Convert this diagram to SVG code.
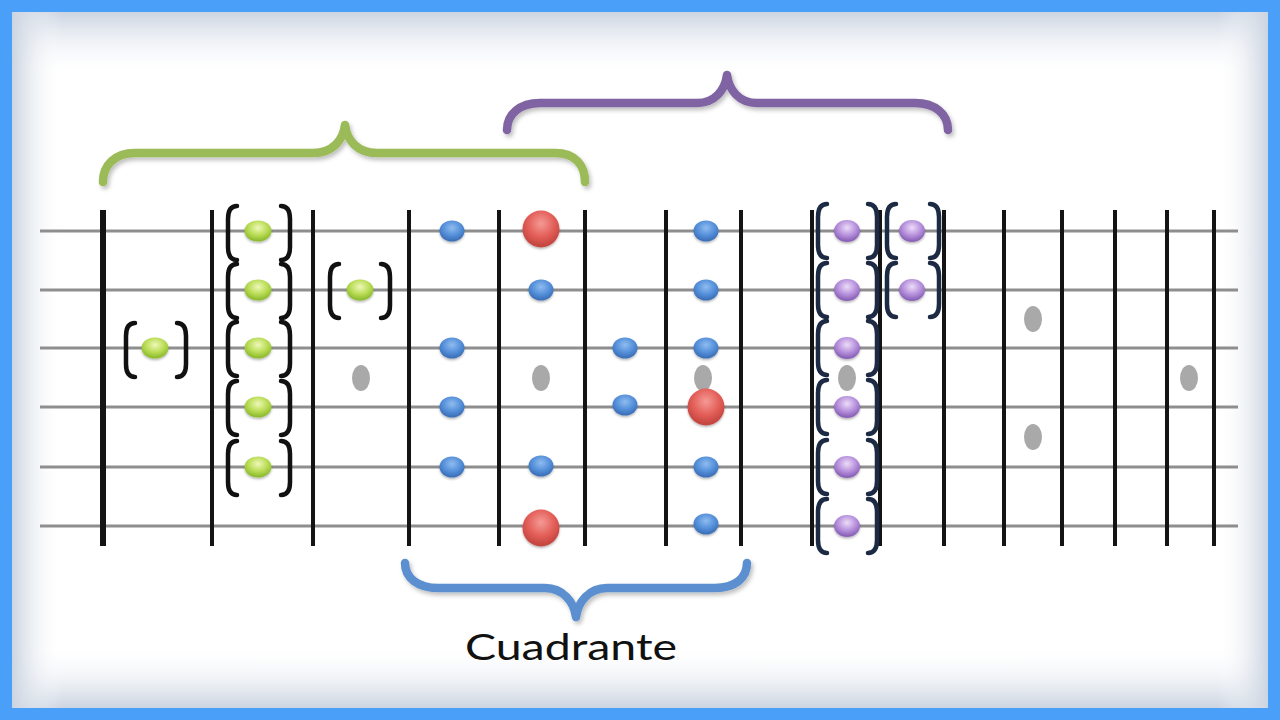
<svg xmlns="http://www.w3.org/2000/svg" width="1280" height="720" viewBox="0 0 1280 720">
<defs>
<style>
.str{stroke:#8e8e8e;stroke-width:3}
.fret{stroke:#141414;stroke-width:4}
.brk{fill:none;stroke:#111;stroke-width:4.5;stroke-linecap:round}
.pbrk{fill:none;stroke:#1c2a44;stroke-width:4.5;stroke-linecap:round}
.brace{fill:none;stroke-width:8.5;stroke-linecap:round;stroke-linejoin:round;filter:url(#sh)}
.inlay{fill:#a9a9a9}
.g{fill:url(#gG);filter:url(#dsh)}
.b{fill:url(#gB);filter:url(#dsh)}
.r{fill:url(#gR);filter:url(#dsh)}
.p{fill:url(#gP);filter:url(#dsh)}
</style>
<radialGradient id="gG" cx="50%" cy="35%" r="60%"><stop offset="0" stop-color="#eef8b8"/><stop offset="0.6" stop-color="#b9dc55"/><stop offset="1" stop-color="#8fbd30"/></radialGradient>
<radialGradient id="gB" cx="50%" cy="35%" r="60%"><stop offset="0" stop-color="#8fbcef"/><stop offset="0.6" stop-color="#5590da"/><stop offset="1" stop-color="#3d71ba"/></radialGradient>
<radialGradient id="gR" cx="50%" cy="35%" r="60%"><stop offset="0" stop-color="#f59a95"/><stop offset="0.6" stop-color="#e35f59"/><stop offset="1" stop-color="#c64640"/></radialGradient>
<radialGradient id="gP" cx="50%" cy="35%" r="60%"><stop offset="0" stop-color="#ecdcf8"/><stop offset="0.6" stop-color="#b690dc"/><stop offset="1" stop-color="#8a62b8"/></radialGradient>
<linearGradient id="vT" x1="0" y1="0" x2="0" y2="1"><stop offset="0" stop-color="#cbd4e1"/><stop offset="1" stop-color="#ffffff" stop-opacity="0"/></linearGradient>
<linearGradient id="vB" x1="0" y1="1" x2="0" y2="0"><stop offset="0" stop-color="#cbd4e1"/><stop offset="1" stop-color="#ffffff" stop-opacity="0"/></linearGradient>
<linearGradient id="vL" x1="0" y1="0" x2="1" y2="0"><stop offset="0" stop-color="#cbd4e1"/><stop offset="1" stop-color="#ffffff" stop-opacity="0"/></linearGradient>
<linearGradient id="vR" x1="1" y1="0" x2="0" y2="0"><stop offset="0" stop-color="#cbd4e1"/><stop offset="1" stop-color="#ffffff" stop-opacity="0"/></linearGradient>
<filter id="sh" x="-10%" y="-50%" width="120%" height="200%"><feDropShadow dx="2" dy="3" stdDeviation="2" flood-color="#000" flood-opacity="0.25"/></filter>
<filter id="dsh" x="-50%" y="-50%" width="200%" height="200%"><feDropShadow dx="0" dy="1.5" stdDeviation="1.2" flood-color="#000" flood-opacity="0.3"/></filter>
<path id="lb" d="M 9,-27 Q 0,-27 0,-14 L 0,14 Q 0,27 9,27"/>
<path id="rb" d="M -9,-27 Q 0,-27 0,-14 L 0,14 Q 0,27 -9,27"/>
</defs>

<g id="frame">
<rect x="0" y="0" width="1280" height="720" fill="#4a9ff8"/>
<rect x="12" y="12" width="1256" height="696" fill="#ffffff"/>
<rect x="12" y="12" width="1256" height="65" fill="url(#vT)"/>
<rect x="12" y="645" width="1256" height="63" fill="url(#vB)"/>
<rect x="12" y="12" width="50" height="696" fill="url(#vL)"/>
<rect x="1218" y="12" width="50" height="696" fill="url(#vR)"/>
</g>

<g id="strings">
<line class="str" x1="40" y1="231" x2="1238" y2="231"/>
<line class="str" x1="40" y1="290" x2="1238" y2="290"/>
<line class="str" x1="40" y1="348" x2="1238" y2="348"/>
<line class="str" x1="40" y1="407" x2="1238" y2="407"/>
<line class="str" x1="40" y1="467" x2="1238" y2="467"/>
<line class="str" x1="40" y1="526" x2="1238" y2="526"/>
</g>

<g id="frets">
<line class="fret" x1="103" y1="210" x2="103" y2="546" style="stroke-width:6"/>
<line class="fret" x1="212" y1="210" x2="212" y2="546"/>
<line class="fret" x1="313" y1="210" x2="313" y2="546"/>
<line class="fret" x1="409" y1="210" x2="409" y2="546"/>
<line class="fret" x1="499" y1="210" x2="499" y2="546"/>
<line class="fret" x1="585" y1="210" x2="585" y2="546"/>
<line class="fret" x1="666" y1="210" x2="666" y2="546"/>
<line class="fret" x1="741" y1="210" x2="741" y2="546"/>
<line class="fret" x1="812" y1="210" x2="812" y2="546"/>
<line class="fret" x1="880" y1="210" x2="880" y2="546"/>
<line class="fret" x1="944" y1="210" x2="944" y2="546"/>
<line class="fret" x1="1004" y1="210" x2="1004" y2="546"/>
<line class="fret" x1="1062" y1="210" x2="1062" y2="546"/>
<line class="fret" x1="1115" y1="210" x2="1115" y2="546"/>
<line class="fret" x1="1167" y1="210" x2="1167" y2="546"/>
<line class="fret" x1="1214" y1="210" x2="1214" y2="546"/>
</g>

<g id="inlays">
<ellipse class="inlay" cx="361" cy="378" rx="9" ry="13"/>
<ellipse class="inlay" cx="541" cy="378" rx="9" ry="13"/>
<ellipse class="inlay" cx="703" cy="378" rx="9" ry="13"/>
<ellipse class="inlay" cx="847" cy="378" rx="9" ry="13"/>
<ellipse class="inlay" cx="1033" cy="319" rx="9" ry="13"/>
<ellipse class="inlay" cx="1033" cy="437" rx="9" ry="13"/>
<ellipse class="inlay" cx="1189" cy="378" rx="9" ry="13"/>
</g>

<g id="connectors">
<path class="brace" stroke="#9bbb59" d="M 103,182 C 103,165 115,153 135,153 L 313,153 C 333,153 343,140 345,125 C 347,140 357,153 377,153 L 555,153 C 575,153 585,165 585,182"/>
<path class="brace" stroke="#8064a2" d="M 507,130 C 507,114 520,103 540,103 L 697,103 C 715,103 725,90 727,75 C 729,90 739,103 757,103 L 915,103 C 935,103 948,114 948,130"/>
<path class="brace" stroke="#5b8fd0" d="M 405,563 C 405,578 418,588 438,588 L 545,588 C 563,588 574,602 576,617 C 578,602 589,588 607,588 L 715,588 C 735,588 747,578 747,563"/>
</g>

<g id="green-notes">
<use href="#lb" x="126" y="350" class="brk"/><use href="#rb" x="186" y="350" class="brk"/>
<ellipse class="g" cx="155" cy="348" rx="13.5" ry="10.5"/>
<use href="#lb" x="228" y="233" class="brk"/><use href="#rb" x="290" y="233" class="brk"/>
<use href="#lb" x="228" y="291" class="brk"/><use href="#rb" x="290" y="291" class="brk"/>
<use href="#lb" x="228" y="349" class="brk"/><use href="#rb" x="290" y="349" class="brk"/>
<use href="#lb" x="228" y="408" class="brk"/><use href="#rb" x="290" y="408" class="brk"/>
<use href="#lb" x="228" y="468" class="brk"/><use href="#rb" x="290" y="468" class="brk"/>
<ellipse class="g" cx="258" cy="231" rx="13.5" ry="10.5"/>
<ellipse class="g" cx="258" cy="290" rx="13.5" ry="10.5"/>
<ellipse class="g" cx="258" cy="348" rx="13.5" ry="10.5"/>
<ellipse class="g" cx="258" cy="407" rx="13.5" ry="10.5"/>
<ellipse class="g" cx="258" cy="467" rx="13.5" ry="10.5"/>
<use href="#lb" x="330" y="291" class="brk"/><use href="#rb" x="390" y="291" class="brk"/>
<ellipse class="g" cx="360" cy="290" rx="13.5" ry="10.5"/>
</g>

<g id="blue-notes">
<ellipse class="b" cx="452" cy="231" rx="12.5" ry="10.5"/>
<ellipse class="b" cx="452" cy="348" rx="12.5" ry="10.5"/>
<ellipse class="b" cx="452" cy="407" rx="12.5" ry="10.5"/>
<ellipse class="b" cx="452" cy="467" rx="12.5" ry="10.5"/>
<ellipse class="b" cx="541" cy="290" rx="12.5" ry="10.5"/>
<ellipse class="b" cx="541" cy="466" rx="12.5" ry="10.5"/>
<ellipse class="b" cx="625" cy="348" rx="12.5" ry="10.5"/>
<ellipse class="b" cx="625" cy="405" rx="12.5" ry="10.5"/>
<ellipse class="b" cx="706" cy="231" rx="12.5" ry="10.5"/>
<ellipse class="b" cx="706" cy="290" rx="12.5" ry="10.5"/>
<ellipse class="b" cx="706" cy="348" rx="12.5" ry="10.5"/>
<ellipse class="b" cx="706" cy="467" rx="12.5" ry="10.5"/>
<ellipse class="b" cx="706" cy="524" rx="12.5" ry="10.5"/>
</g>

<g id="root-notes">
<circle class="r" cx="541" cy="229" r="18.5"/>
<circle class="r" cx="541" cy="528" r="18.5"/>
<circle class="r" cx="706" cy="407" r="18.5"/>
</g>

<g id="purple-notes">
<use href="#lb" x="818" y="231" class="pbrk"/><use href="#rb" x="877" y="231" class="pbrk"/>
<use href="#lb" x="818" y="290" class="pbrk"/><use href="#rb" x="877" y="290" class="pbrk"/>
<use href="#lb" x="818" y="348" class="pbrk"/><use href="#rb" x="877" y="348" class="pbrk"/>
<use href="#lb" x="818" y="407" class="pbrk"/><use href="#rb" x="877" y="407" class="pbrk"/>
<use href="#lb" x="818" y="467" class="pbrk"/><use href="#rb" x="877" y="467" class="pbrk"/>
<use href="#lb" x="818" y="526" class="pbrk"/><use href="#rb" x="877" y="526" class="pbrk"/>
<ellipse class="p" cx="847" cy="231" rx="13" ry="11"/>
<ellipse class="p" cx="847" cy="290" rx="13" ry="11"/>
<ellipse class="p" cx="847" cy="348" rx="13" ry="11"/>
<ellipse class="p" cx="847" cy="407" rx="13" ry="11"/>
<ellipse class="p" cx="847" cy="467" rx="13" ry="11"/>
<ellipse class="p" cx="847" cy="526" rx="13" ry="11"/>
<use href="#lb" x="887" y="231" class="pbrk"/><use href="#rb" x="939" y="231" class="pbrk"/>
<use href="#lb" x="887" y="290" class="pbrk"/><use href="#rb" x="939" y="290" class="pbrk"/>
<ellipse class="p" cx="912" cy="231" rx="13" ry="11"/>
<ellipse class="p" cx="912" cy="290" rx="13" ry="11"/>
</g>

<g id="label">
<text x="571" y="660" text-anchor="middle" font-family="Lato, 'Noto Sans', sans-serif" font-size="37" fill="#111" textLength="212" lengthAdjust="spacingAndGlyphs">Cuadrante</text>
</g>
</svg>
